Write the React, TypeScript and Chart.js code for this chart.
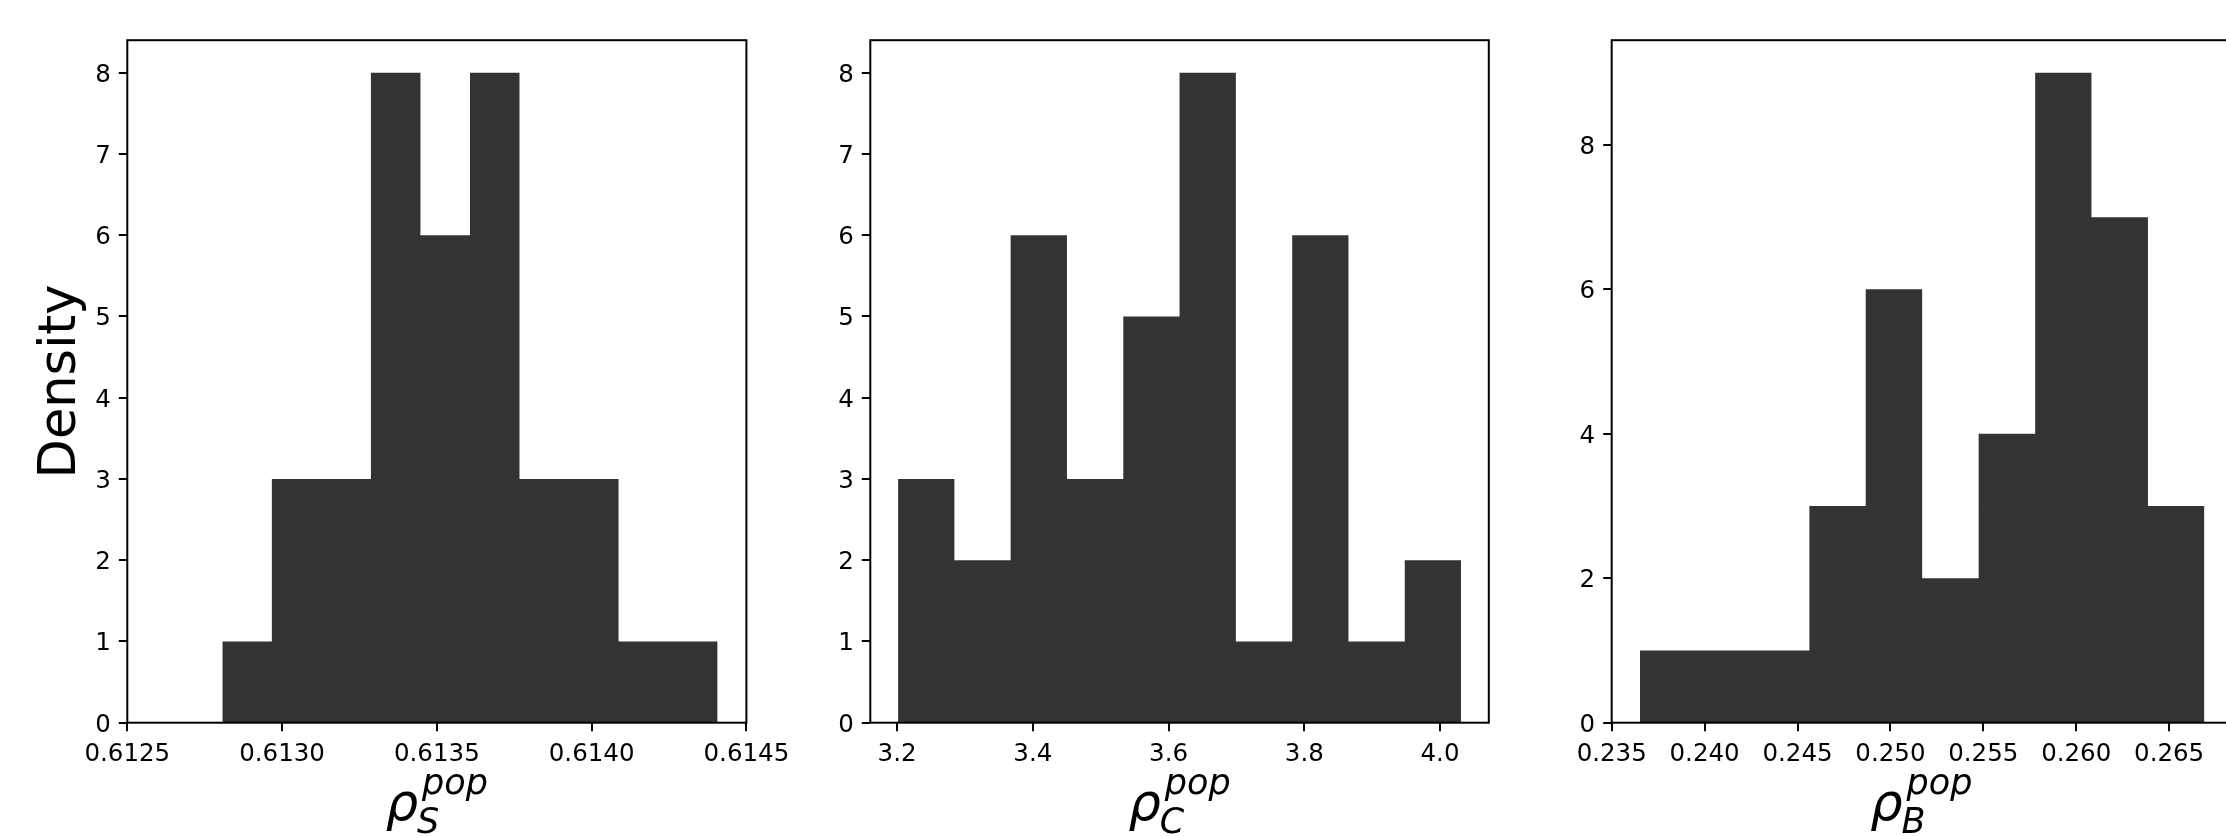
import React, { useEffect, useRef } from "react";
import { Chart, registerables } from "chart.js";

Chart.register(...registerables);

// ---------------- data ----------------
// Panel 1: rho_S^pop
const binEdgesS = [0.612807, 0.612967, 0.613127, 0.613287, 0.613447, 0.613607, 0.613767, 0.613927, 0.614087, 0.614247, 0.614407];
const densityS = [1, 3, 3, 8, 6, 8, 3, 3, 1, 1];
const xTicksS = [0.6125, 0.613, 0.6135, 0.614, 0.6145];
const yTicksS = [0, 1, 2, 3, 4, 5, 6, 7, 8];

// Panel 2: rho_C^pop
const binEdgesC = [3.2014, 3.2844, 3.3673, 3.4503, 3.5333, 3.6162, 3.6992, 3.7822, 3.8651, 3.9481, 4.031];
const densityC = [3, 2, 6, 3, 5, 8, 1, 6, 1, 2];
const xTicksC = [3.2, 3.4, 3.6, 3.8, 4.0];
const yTicksC = [0, 1, 2, 3, 4, 5, 6, 7, 8];

// Panel 3: rho_B^pop
const binEdgesB = [0.23652, 0.23956, 0.2426, 0.24564, 0.24867, 0.25171, 0.25475, 0.25779, 0.26082, 0.26386, 0.2669];
const densityB = [1, 1, 1, 3, 6, 2, 4, 9, 7, 3];
const xTicksB = [0.235, 0.24, 0.245, 0.25, 0.255, 0.26, 0.265];
const yTicksB = [0, 2, 4, 6, 8];

// ---------------- layout / style ----------------
const FIG_W = 2226;
const FIG_H = 836;
const CANVAS_W = 2300;
const AREA_TOP = 40.2;
const AREA_BOTTOM = 722.7;
const Y_BOX = 100;
const X_BOX = 60;
const TICK_FONT = 24.5;
const LABEL_FONT = 51;
const BAR_COLOR = "#333333";

type Panel = {
  edges: number[];
  counts: number[];
  xTicks: number[];
  yTicks: number[];
  xMin: number;
  xMax: number;
  yMax: number;
  decimals: number;
  left: number;
  right: number;
  sub: string;
  yTitle?: string;
};

const panels: Panel[] = [
  { edges: binEdgesS, counts: densityS, xTicks: xTicksS, yTicks: yTicksS, xMin: 0.6125, xMax: 0.6145, yMax: 8.4, decimals: 4, left: 127.3, right: 746.4, sub: "S", yTitle: "Density" },
  { edges: binEdgesC, counts: densityC, xTicks: xTicksC, yTicks: yTicksC, xMin: 3.1605, xMax: 4.0719, yMax: 8.4, decimals: 1, left: 870.3, right: 1488.8, sub: "C" },
  { edges: binEdgesB, counts: densityB, xTicks: xTicksB, yTicks: yTicksB, xMin: 0.235, xMax: 0.26833, yMax: 9.45, decimals: 3, left: 1611.7, right: 2231.0, sub: "B" },
];

function drawMathLabel(ctx: CanvasRenderingContext2D, cx: number, baseY: number, sub: string) {
  const big = `italic ${LABEL_FONT}px "DejaVu Sans"`;
  const small = `italic ${Math.round(LABEL_FONT * 0.68)}px "DejaVu Sans"`;
  ctx.font = big;
  const wRho = ctx.measureText("ρ").width;
  ctx.font = small;
  const wSup = ctx.measureText("pop").width;
  const wSub = ctx.measureText(sub).width;
  const supDx = 4;
  const total = wRho + Math.max(wSup + supDx, wSub);
  const x0 = cx - total / 2;
  ctx.fillStyle = "#000";
  ctx.textAlign = "left";
  ctx.textBaseline = "alphabetic";
  ctx.font = big;
  ctx.fillText("ρ", x0, baseY);
  ctx.font = small;
  ctx.fillText(sub, x0 + wRho - 1, baseY + 13);
  ctx.fillText("pop", x0 + wRho + supDx, baseY - 26);
}

function makeConfig(p: Panel): any {
  const points = p.edges.map((e, i) => ({ x: e, y: p.counts[Math.min(i, p.counts.length - 1)] }));
  const decor = {
    id: "decor",
    afterDraw(chart: any) {
      const { ctx, chartArea: a } = chart;
      ctx.save();
      ctx.strokeStyle = "#000";
      ctx.lineWidth = 2;
      ctx.strokeRect(a.left, a.top, a.right - a.left, a.bottom - a.top);
      drawMathLabel(ctx, (a.left + a.right) / 2, 820, p.sub);
      if (p.yTitle) {
        ctx.save();
        ctx.translate(75, (a.top + a.bottom) / 2);
        ctx.rotate(-Math.PI / 2);
        ctx.font = `${LABEL_FONT}px "DejaVu Sans"`;
        ctx.fillStyle = "#000";
        ctx.textAlign = "center";
        ctx.textBaseline = "alphabetic";
        ctx.fillText(p.yTitle, 0, 0);
        ctx.restore();
      }
      ctx.restore();
    },
  };
  return {
    type: "line",
    data: {
      datasets: [
        {
          data: points,
          stepped: "before",
          fill: "origin",
          backgroundColor: BAR_COLOR,
          borderColor: "rgba(0,0,0,0)",
          borderWidth: 0,
          pointRadius: 0,
          pointHoverRadius: 0,
        },
      ],
    },
    plugins: [decor],
    options: {
      responsive: false,
      animation: false,
      devicePixelRatio: 1,
      events: [],
      layout: {
        padding: {
          left: p.left - Y_BOX,
          right: CANVAS_W - p.right,
          top: AREA_TOP,
          bottom: FIG_H - AREA_BOTTOM - X_BOX,
        },
      },
      plugins: { legend: { display: false }, tooltip: { enabled: false }, title: { display: false } },
      scales: {
        x: {
          type: "linear",
          min: p.xMin,
          max: p.xMax,
          afterBuildTicks: (s: any) => {
            s.ticks = p.xTicks.map((v) => ({ value: v }));
          },
          afterFit: (s: any) => {
            s.height = X_BOX;
            s.paddingLeft = 0;
            s.paddingRight = 0;
          },
          ticks: {
            autoSkip: false,
            maxRotation: 0,
            minRotation: 0,
            padding: 9,
            color: "#000",
            font: { family: "DejaVu Sans", size: TICK_FONT },
            callback: (v: any) => Number(v).toFixed(p.decimals),
          },
          grid: { drawOnChartArea: false, drawTicks: true, tickLength: 8.5, color: "#000", lineWidth: 2 },
          border: { display: false },
        },
        y: {
          type: "linear",
          min: 0,
          max: p.yMax,
          afterBuildTicks: (s: any) => {
            s.ticks = p.yTicks.map((v) => ({ value: v }));
          },
          afterFit: (s: any) => {
            s.width = Y_BOX;
            s.paddingTop = 0;
            s.paddingBottom = 0;
          },
          ticks: {
            autoSkip: false,
            padding: 8,
            labelOffset: 2.5,
            color: "#000",
            font: { family: "DejaVu Sans", size: TICK_FONT },
            callback: (v: any) => String(v),
          },
          grid: { drawOnChartArea: false, drawTicks: true, tickLength: 8.5, color: "#000", lineWidth: 2 },
          border: { display: false },
        },
      },
    },
  };
}

function HistPanel({ panel }: { panel: Panel }) {
  const ref = useRef<HTMLCanvasElement | null>(null);
  useEffect(() => {
    if (!ref.current) return;
    const chart = new Chart(ref.current, makeConfig(panel));
    return () => chart.destroy();
  }, [panel]);
  return (
    <canvas
      ref={ref}
      width={CANVAS_W}
      height={FIG_H}
      style={{ position: "absolute", left: 0, top: 0, width: CANVAS_W, height: FIG_H }}
    />
  );
}

export default function App() {
  useEffect(() => {
    document.body.style.margin = "0";
    document.body.style.overflow = "hidden";
    Chart.defaults.font.family = "DejaVu Sans";
  }, []);
  return (
    <div style={{ position: "relative", width: FIG_W, height: FIG_H, overflow: "hidden", background: "#fff" }}>
      {panels.map((p, i) => (
        <HistPanel key={i} panel={p} />
      ))}
    </div>
  );
}
